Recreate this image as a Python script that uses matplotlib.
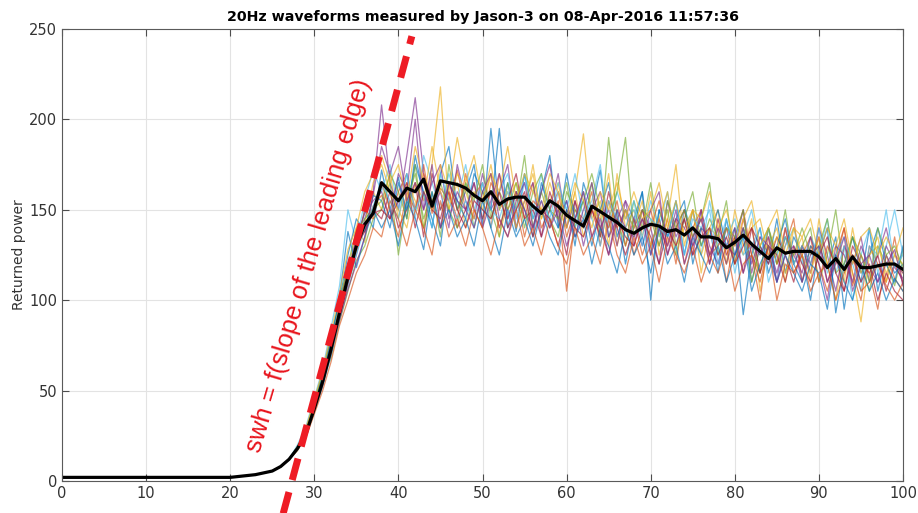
import numpy as np
import matplotlib.pyplot as plt

# gates 0..27 : all waveforms overlap on the noise floor / foot of the edge
base = [2, 2, 2, 2, 2, 2, 2, 2, 2, 2, 2, 2, 2, 2, 2, 2, 2, 2, 2, 2,
        2, 2.5, 3, 3.5, 4.5, 5.5, 8, 12]

# mean waveform, gates 28..100
mean_tail = [18, 26, 40, 55, 73, 93, 113, 130, 142, 148,
             165, 160, 155, 162, 160, 167, 152, 166, 165, 164,
             162, 158, 155, 160, 153, 156, 157, 157, 152, 148,
             155, 152, 147, 144, 141, 152, 149, 146, 143, 139,
             137, 140, 142, 141, 138, 139, 136, 140, 135, 135,
             134, 129, 132, 136, 131, 127, 123, 129, 126, 127,
             127, 127, 124, 118, 123, 117, 124, 118, 118, 119,
             120, 120, 117]

# individual 20Hz waveforms, gates 28..100
w01 = [19, 27, 42, 58, 70, 96, 120, 128, 150, 140,
       172, 150, 168, 145, 180, 158, 140, 170, 185, 150,
       160, 175, 142, 195, 150, 165, 138, 170, 145, 160,
       180, 140, 155, 130, 165, 150, 172, 135, 150, 120,
       145, 160, 100, 150, 135, 155, 125, 150, 130, 140,
       115, 145, 125, 140, 110, 130, 120, 145, 115, 135,
       125, 100, 130, 118, 135, 95, 125, 110, 140, 105,
       125, 115, 120]
w02 = [17, 25, 38, 53, 75, 90, 108, 135, 138, 152,
       158, 145, 160, 170, 150, 175, 148, 162, 155, 172,
       150, 158, 165, 140, 170, 150, 160, 145, 165, 140,
       150, 160, 135, 150, 145, 160, 130, 155, 140, 150,
       125, 140, 150, 130, 145, 120, 150, 135, 145, 125,
       140, 110, 135, 150, 125, 115, 140, 120, 130, 145,
       110, 130, 120, 105, 125, 140, 115, 100, 130, 120,
       110, 135, 108]
w03 = [18, 26, 40, 56, 72, 95, 115, 140, 132, 160,
       150, 170, 145, 165, 155, 140, 175, 218, 150, 165,
       140, 160, 150, 170, 135, 155, 165, 150, 175, 145,
       155, 165, 140, 160, 192, 145, 155, 130, 170, 140,
       150, 135, 160, 125, 145, 175, 130, 150, 115, 140,
       150, 120, 135, 125, 145, 105, 130, 140, 115, 125,
       135, 110, 145, 120, 100, 130, 115, 88, 125, 135,
       110, 125, 115]
w04 = [18, 27, 41, 54, 78, 92, 110, 125, 145, 160,
       208, 165, 150, 180, 212, 170, 150, 160, 140, 175,
       155, 145, 170, 150, 160, 175, 140, 155, 165, 135,
       150, 170, 140, 155, 130, 150, 160, 135, 145, 155,
       130, 150, 140, 120, 155, 135, 145, 125, 150, 130,
       120, 140, 130, 150, 115, 135, 125, 110, 140, 120,
       130, 115, 140, 125, 105, 130, 120, 135, 110, 125,
       140, 118, 112]
w05 = [17, 25, 39, 57, 68, 88, 105, 122, 130, 145,
       150, 165, 125, 155, 170, 145, 160, 135, 175, 150,
       165, 140, 160, 150, 135, 165, 150, 180, 140, 160,
       145, 135, 160, 150, 140, 165, 135, 190, 145, 130,
       155, 140, 165, 135, 150, 125, 145, 160, 130, 145,
       135, 155, 120, 140, 130, 115, 140, 125, 150, 120,
       130, 140, 110, 125, 150, 115, 135, 120, 105, 130,
       120, 108, 128]
w06 = [20, 30, 46, 62, 85, 108, 150, 132, 155, 172,
       160, 175, 150, 170, 145, 180, 165, 150, 170, 155,
       175, 150, 165, 140, 160, 170, 145, 165, 150, 170,
       140, 160, 150, 170, 145, 155, 175, 140, 160, 145,
       150, 135, 155, 140, 160, 130, 150, 140, 125, 155,
       130, 145, 115, 135, 150, 125, 140, 110, 130, 140,
       120, 135, 125, 145, 115, 130, 100, 125, 140, 115,
       130, 150, 125]
w07 = [18, 26, 40, 55, 70, 94, 112, 128, 140, 150,
       145, 160, 140, 150, 165, 135, 170, 150, 160, 140,
       150, 165, 145, 160, 140, 155, 170, 145, 150, 135,
       160, 145, 125, 155, 140, 150, 135, 160, 140, 125,
       140, 150, 130, 145, 125, 140, 150, 130, 140, 120,
       145, 125, 135, 115, 140, 130, 120, 135, 125, 110,
       130, 120, 135, 110, 125, 105, 130, 120, 115, 125,
       105, 120, 110]
w08 = [19, 28, 43, 60, 80, 100, 125, 145, 138, 158,
       155, 140, 165, 150, 175, 160, 145, 130, 165, 155,
       145, 170, 160, 150, 195, 140, 160, 150, 135, 165,
       150, 140, 170, 145, 155, 130, 150, 165, 135, 150,
       140, 160, 125, 150, 135, 145, 155, 120, 140, 135,
       150, 130, 140, 92, 125, 140, 115, 130, 145, 120,
       110, 130, 125, 140, 93, 120, 135, 115, 125, 140,
       120, 110, 130]
w09 = [18, 27, 41, 57, 74, 97, 118, 130, 150, 145,
       165, 150, 135, 160, 150, 170, 155, 140, 160, 145,
       170, 150, 140, 165, 155, 145, 160, 135, 155, 150,
       140, 155, 105, 145, 160, 135, 150, 140, 155, 130,
       145, 125, 140, 155, 130, 145, 120, 140, 150, 125,
       130, 140, 120, 145, 125, 100, 135, 120, 140, 115,
       125, 135, 110, 130, 120, 140, 108, 125, 115, 95,
       125, 112, 105]
w10 = [17, 26, 40, 55, 73, 91, 112, 127, 142, 165,
       175, 160, 150, 140, 165, 155, 185, 160, 150, 170,
       160, 145, 155, 175, 150, 160, 140, 155, 170, 145,
       165, 150, 140, 160, 135, 150, 145, 170, 130, 150,
       140, 155, 130, 145, 160, 130, 140, 150, 125, 140,
       135, 120, 150, 130, 140, 145, 125, 135, 110, 140,
       125, 115, 135, 120, 130, 110, 140, 115, 125, 130,
       115, 125, 120]
w11 = [18, 26, 42, 56, 76, 93, 115, 135, 148, 155,
       160, 145, 170, 160, 200, 150, 165, 175, 145, 160,
       150, 165, 140, 155, 170, 145, 160, 150, 140, 160,
       175, 145, 155, 135, 150, 165, 140, 150, 130, 155,
       145, 130, 150, 160, 125, 145, 140, 130, 150, 120,
       140, 130, 125, 140, 120, 135, 130, 115, 135, 125,
       115, 135, 120, 100, 130, 125, 110, 130, 118, 110,
       130, 120, 115]
w12 = [19, 28, 44, 59, 79, 99, 120, 138, 145, 150,
       155, 170, 160, 145, 175, 140, 155, 165, 150, 140,
       165, 155, 175, 145, 160, 150, 165, 140, 160, 170,
       150, 145, 165, 140, 155, 170, 150, 145, 160, 190,
       135, 150, 145, 130, 155, 140, 150, 135, 145, 165,
       125, 140, 135, 150, 110, 130, 140, 120, 135, 125,
       140, 125, 130, 145, 115, 120, 135, 125, 110, 140,
       125, 130, 118]
w13 = [17, 25, 38, 52, 69, 90, 108, 125, 140, 152,
       165, 155, 145, 170, 150, 160, 140, 170, 155, 145,
       155, 140, 165, 150, 145, 160, 150, 170, 145, 155,
       145, 165, 150, 140, 160, 145, 130, 155, 145, 140,
       155, 130, 145, 140, 135, 155, 125, 145, 140, 150,
       120, 135, 145, 125, 130, 140, 110, 125, 135, 120,
       130, 120, 140, 115, 125, 135, 120, 105, 130, 125,
       150, 118, 125]
w14 = [18, 27, 40, 54, 72, 92, 110, 130, 138, 148,
       150, 145, 155, 165, 140, 160, 150, 145, 165, 150,
       140, 155, 150, 145, 160, 140, 150, 160, 135, 150,
       145, 130, 150, 140, 135, 150, 140, 125, 145, 135,
       130, 145, 135, 120, 140, 130, 145, 125, 135, 140,
       125, 135, 120, 130, 140, 115, 130, 125, 110, 130,
       120, 110, 125, 135, 115, 105, 125, 110, 120, 100,
       115, 105, 100]
w15 = [18, 26, 41, 58, 77, 102, 138, 118, 135, 150,
       140, 150, 130, 155, 145, 128, 160, 140, 150, 135,
       145, 130, 155, 140, 125, 150, 135, 145, 130, 150,
       135, 125, 150, 135, 145, 120, 140, 130, 115, 140,
       125, 135, 115, 140, 120, 130, 110, 135, 125, 115,
       130, 110, 125, 135, 105, 120, 130, 110, 125, 115,
       105, 120, 115, 95, 125, 110, 100, 120, 105, 115,
       100, 112, 105]
w16 = [17, 24, 37, 50, 66, 86, 100, 115, 125, 140,
       135, 155, 145, 130, 150, 140, 125, 155, 135, 145,
       130, 150, 140, 125, 145, 135, 150, 130, 140, 125,
       145, 130, 120, 140, 125, 135, 120, 145, 125, 115,
       135, 120, 130, 110, 135, 125, 115, 130, 110, 125,
       115, 130, 105, 120, 125, 110, 130, 100, 120, 115,
       125, 105, 115, 120, 100, 115, 125, 105, 110, 120,
       108, 100, 110]
w17 = [19, 29, 45, 61, 82, 104, 128, 140, 160, 170,
       180, 165, 175, 155, 185, 165, 150, 175, 160, 190,
       165, 180, 155, 170, 160, 185, 155, 170, 160, 150,
       170, 160, 145, 165, 155, 140, 160, 150, 165, 145,
       160, 145, 150, 165, 140, 155, 135, 150, 145, 160,
       140, 150, 130, 145, 155, 130, 140, 150, 125, 140,
       135, 145, 125, 140, 130, 145, 120, 135, 140, 125,
       135, 125, 140]
w18 = [18, 27, 40, 53, 71, 89, 106, 120, 135, 158,
       185, 170, 185, 155, 165, 150, 175, 140, 165, 155,
       150, 140, 160, 170, 145, 135, 155, 165, 140, 155,
       140, 150, 130, 145, 160, 135, 145, 125, 150, 140,
       135, 145, 125, 140, 130, 150, 120, 135, 145, 125,
       135, 120, 140, 115, 130, 125, 135, 110, 125, 130,
       110, 125, 130, 110, 120, 135, 105, 120, 125, 110,
       120, 128, 108]

waveforms = [w01, w02, w03, w04, w05, w06, w07, w08, w09,
             w10, w11, w12, w13, w14, w15, w16, w17, w18]

# MATLAB default colour order
matlab_colors = ['#0072BD', '#D95319', '#EDB120', '#7E2F8E',
                 '#77AC30', '#4DBEEE', '#A2142F']

gates = np.arange(len(base) + len(mean_tail))

fig = plt.figure(figsize=(9.18, 5.13), dpi=100)
ax = fig.add_axes([0.0675, 0.0624, 0.9162, 0.8811])

for i, w in enumerate(waveforms):
    ax.plot(gates, base + w, color=matlab_colors[i % 7], lw=0.9, alpha=0.65)

ax.plot(gates, base + mean_tail, color='black', lw=2.3)

# leading edge slope
ax.plot([26.3, 41.6], [-18, 246], color='#ee1c25', lw=5,
        dashes=(3.2, 1.8), clip_on=False, solid_capstyle='butt')
ax.text(29.3, 119, 'swh = f(slope of the leading edge)', color='#e8141c',
        fontsize=18.5, family='Liberation Sans', rotation=73.5,
        rotation_mode='anchor', ha='center', va='center')

ax.set_xlim(0, 100)
ax.set_ylim(0, 250)
ax.set_xticks(np.arange(0, 101, 10))
ax.set_yticks(np.arange(0, 251, 50))
ax.grid(True, color='#e3e3e3', lw=0.8)
ax.set_axisbelow(True)
ax.tick_params(direction='in', length=5, width=0.8, colors='#4d4d4d',
               labelcolor='#333333', labelsize=10.5,
               top=True, right=True)
for s in ax.spines.values():
    s.set_color('#5a5a5a')
    s.set_linewidth(0.8)

ax.set_ylabel('Returned power', fontsize=10, color='#333333', labelpad=2)
ax.set_title('20Hz waveforms measured by Jason-3 on 08-Apr-2016 11:57:36',
             fontsize=10.3, fontweight='bold', pad=6)

fig.savefig('out.png', dpi=100)
